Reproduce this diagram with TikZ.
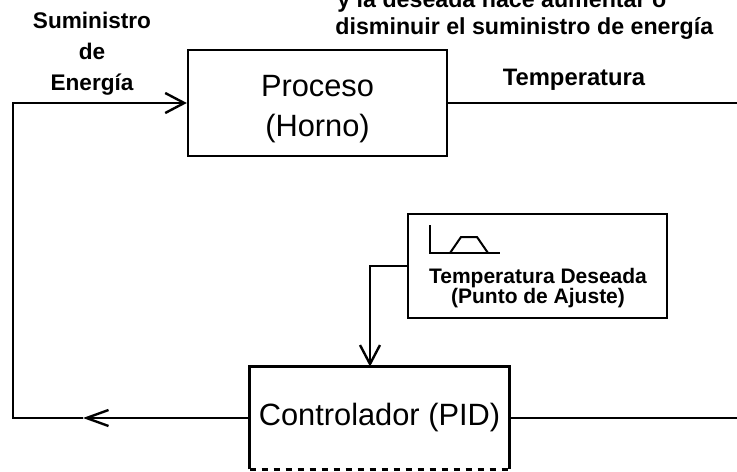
\documentclass[tikz,border=0pt]{standalone}
\usepackage{fontspec}
\setmainfont{Liberation Sans}
\usetikzlibrary{positioning,calc,arrows.meta}

\begin{document}
\begin{tikzpicture}[x=0.5pt,y=0.5pt]
  \tikzset{
    blockbox/.style={draw,line width=1.2pt,minimum width=129.5pt,minimum height=53pt,inner sep=0pt},
    bigtxt/.style={inner sep=0pt,align=center,font=\fontsize{15.4}{20}\selectfont},
    lbl/.style={font=\fontsize{11.3}{15.5}\selectfont\bfseries,inner sep=0pt,align=center},
    wire/.style={line width=1.2pt},
    arr/.style={wire,-{Straight Barb[length=9.5pt,width=10pt]}},
  }
  \useasboundingbox (0,0) rectangle (737,-471);

  \node[blockbox] (proc) at (317.5,-103) {};
  \node[bigtxt] (proctxt) at (317.5,-109) {Proceso\\(Horno)};
  \node[lbl] (supply) at (92,-54) {Suministro\\de\\Energía};
  \node[lbl,font=\fontsize{11.9}{13}\selectfont\bfseries] (templbl) at (574,-80) {Temperatura};
  \node[lbl,font=\fontsize{11.6}{13}\selectfont\bfseries,anchor=base west] (note1) at (337,-8) {y la deseada hace aumentar o};
  \node[lbl,font=\fontsize{11.6}{13}\selectfont\bfseries,anchor=base west] (note2) at (335,-34) {disminuir el suministro de energía};

  % set point box with its little profile
  \node[blockbox,minimum height=52pt] (setpt) at (537.5,-266) {};
  \node[lbl,font=\fontsize{10.5}{10}\selectfont\bfseries] (setlbl) at (538,-288) {Temperatura Deseada\\(Punto de Ajuste)};
  \draw[line width=1pt] (430,-225) -- (430,-253) -- (500,-253);
  \draw[line width=1pt] (450,-253) -- (461,-237) -- (477,-237) -- (488,-253);

  \node[bigtxt,minimum width=129.5pt,minimum height=51pt] (ctrl) at (379.5,-418) {Controlador (PID)};
  \draw[wire] (ctrl.south west) -- (ctrl.north west) -- (ctrl.north east) -- (ctrl.south east);
  \draw[wire,dashed] (ctrl.south west) -- (ctrl.south east);

  \coordinate (lefttip) at (83,-418);
  \coordinate (corner) at (13,-418);
  \coordinate (tempout) at (737,-103);
  \coordinate (ctrlout) at (737,-418);

  \draw[wire,-{Straight Barb[length=11pt,width=8pt]}] (ctrl.west) -- (lefttip);
  \draw[arr] (lefttip) -- (corner) |- (proc.west);
  \draw[wire] (proc.east) -- (tempout);
  \draw[wire] (ctrl.east) -- (ctrlout);
  \draw[arr] (setpt.west) -| ([xshift=-4.75pt]ctrl.north);
\end{tikzpicture}
\end{document}
